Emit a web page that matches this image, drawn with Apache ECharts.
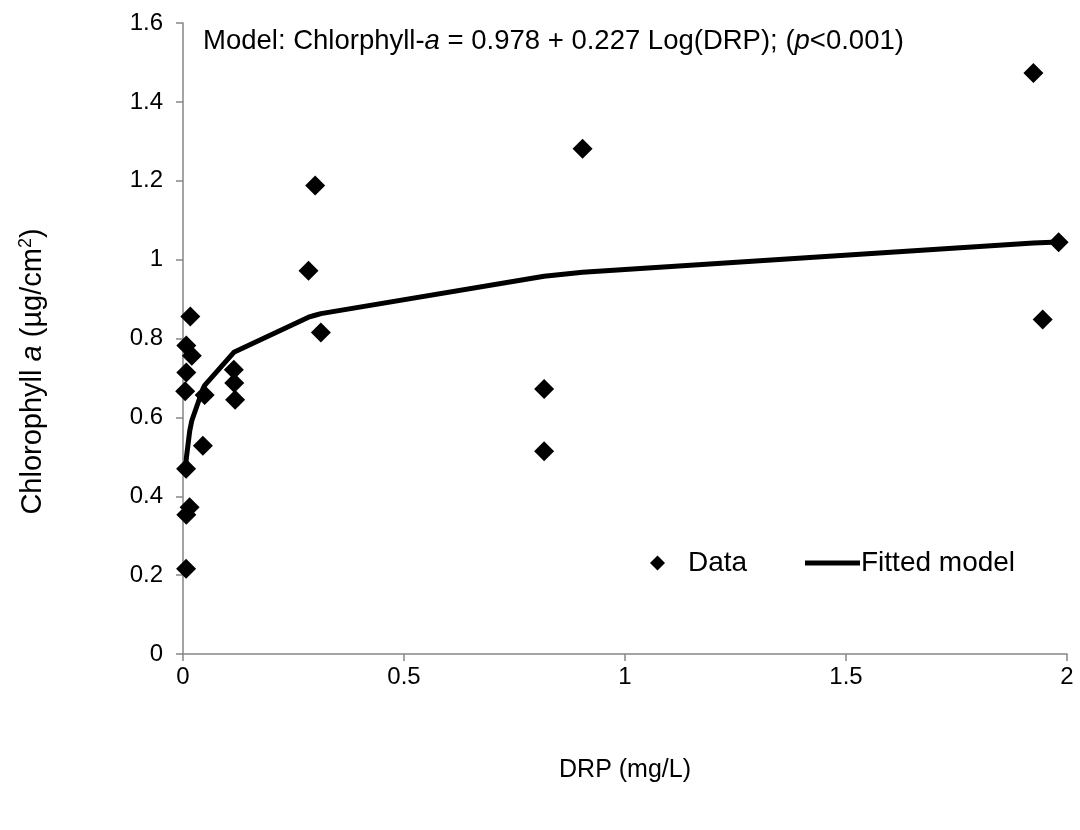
<!DOCTYPE html>
<html>
<head>
<meta charset="utf-8">
<script src="https://cdn.jsdelivr.net/npm/echarts@6/dist/echarts.min.js"></script>
<style>
  html, body { margin: 0; padding: 0; background: #fff; }
  #chart { width: 1080px; height: 830px; }
</style>
</head>
<body>
<div id="chart"></div>
<script>
// observed DRP (mg/L) and chlorophyll-a (µg/cm2)
const drp = [0.0165, 0.0075, 0.020, 0.0075, 0.005, 0.049, 0.115, 0.116, 0.118, 0.045, 0.007,
  0.015, 0.0075, 0.007, 0.284, 0.299, 0.312, 0.817, 0.817, 0.904, 1.924, 1.981, 1.945];
const chla = [0.856, 0.782, 0.756, 0.714, 0.666, 0.657, 0.721, 0.687, 0.645, 0.528, 0.470,
  0.372, 0.353, 0.216, 0.972, 1.188, 0.815, 0.672, 0.514, 1.281, 1.473, 1.044, 0.848];

// fitted curve
const fitX = [0.005, 0.007, 0.0075, 0.015, 0.0165, 0.020, 0.045, 0.049, 0.115, 0.118, 0.284, 0.299, 0.312, 0.817, 0.904, 1.924, 1.981];
const fitY = [0.456, 0.489, 0.496, 0.564, 0.573, 0.592, 0.672, 0.681, 0.765, 0.767, 0.854, 0.859, 0.863, 0.958, 0.968, 1.042, 1.045];

const font = 'Liberation Sans, Arial, sans-serif';
const axisGrey = '#868686';

const chart = echarts.init(document.getElementById('chart'), null, { renderer: 'canvas' });

chart.setOption({
  animation: false,
  backgroundColor: '#fff',
  textStyle: { fontFamily: font, color: '#000' },
  grid: { left: 183, right: 13, top: 23, bottom: 176, containLabel: false },
  title: {
    left: 203, top: 27, padding: 0,
    text: '{n|Model: Chlorphyll-}{i|a}{n| = 0.978 + 0.227 Log(DRP); (}{i|p}{n|<0.001)}',
    textStyle: {
      fontWeight: 'normal',
      rich: {
        n: { fontFamily: font, fontSize: 27.5, fontWeight: 'normal', color: '#000' },
        i: { fontFamily: font, fontSize: 27.5, fontWeight: 'normal', color: '#000', fontStyle: 'italic' }
      }
    }
  },
  legend: [
    {
      data: [{ name: 'Data', icon: 'diamond' }],
      left: 650, top: 549, padding: 0,
      itemWidth: 15, itemHeight: 15,
      itemStyle: { color: '#000', opacity: 1 },
      textStyle: { fontFamily: font, fontSize: 28, color: '#000', padding: [0, 0, 0, 18] }
    },
    {
      data: [{ name: 'Fitted model', icon: 'rect' }],
      left: 805, top: 549, padding: 0,
      itemWidth: 55, itemHeight: 5,
      itemStyle: { color: '#000' },
      textStyle: { fontFamily: font, fontSize: 28, color: '#000', padding: [0, 0, 0, -4] }
    }
  ],
  xAxis: {
    type: 'value', min: 0, max: 2, interval: 0.5,
    name: 'DRP (mg/L)', nameLocation: 'middle', nameGap: 104,
    nameTextStyle: { fontFamily: font, fontSize: 25, color: '#000' },
    axisLine: { show: true, onZero: false, lineStyle: { color: axisGrey, width: 1.5 } },
    axisTick: { show: true, inside: false, length: 7, lineStyle: { color: axisGrey, width: 1.5 } },
    axisLabel: { fontFamily: font, fontSize: 24, color: '#000', margin: 11 },
    splitLine: { show: false }
  },
  yAxis: {
    type: 'value', min: 0, max: 1.6, interval: 0.2,
    name: '{n|Chlorophyll }{i|a}{n| (µg/cm}{s|2}{n|)}', nameLocation: 'middle', nameGap: 134,
    nameTextStyle: {
      padding: [0, 66, 0, 0],
      rich: {
        n: { fontFamily: font, fontSize: 29, color: '#000', lineHeight: 32 },
        i: { fontFamily: font, fontSize: 29, color: '#000', fontStyle: 'italic', lineHeight: 32 },
        s: { fontFamily: font, fontSize: 18, color: '#000', lineHeight: 18, verticalAlign: 'top' }
      }
    },
    axisLine: { show: true, lineStyle: { color: axisGrey, width: 1.5 } },
    axisTick: { show: true, inside: false, length: 7, lineStyle: { color: axisGrey, width: 1.5 } },
    axisLabel: { fontFamily: font, fontSize: 24, color: '#000', margin: 20 },
    splitLine: { show: false }
  },
  series: [
    {
      name: 'Fitted model', type: 'line',
      data: fitX.map((x, i) => [x, fitY[i]]),
      symbol: 'none', smooth: false,
      lineStyle: { color: '#000', width: 5 },
      itemStyle: { color: '#000' },
      z: 2
    },
    {
      name: 'Data', type: 'scatter',
      data: drp.map((x, i) => [x, chla[i]]),
      symbol: 'diamond', symbolSize: 20,
      itemStyle: { color: '#000', opacity: 1 },
      z: 3
    }
  ]
});
</script>
</body>
</html>
